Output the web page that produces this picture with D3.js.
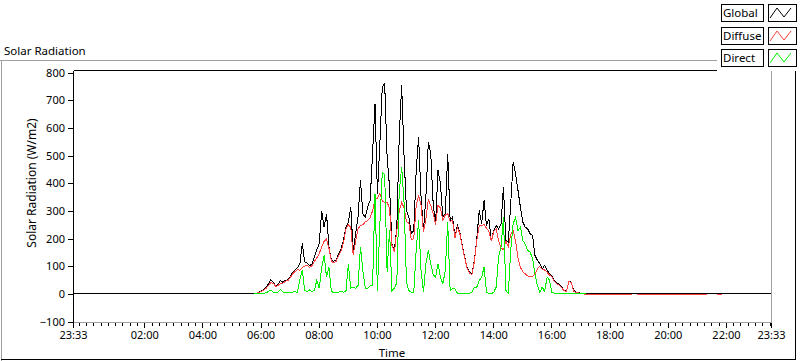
<!DOCTYPE html>
<html><head><meta charset="utf-8">
<script src="https://cdn.jsdelivr.net/npm/d3@7"></script>
<style>
html,body{margin:0;padding:0;background:#fff;}
svg{display:block;font-family:"Noto Sans",sans-serif;}
</style></head><body>
<svg id="chart" width="800" height="361"></svg>
<script>
// ---------------- data ----------------
const chartTitle = "Solar Radiation";
const yTitle = "Solar Radiation (W/m2)";
const xTitle = "Time";
const seriesNames = ["Global", "Diffuse", "Direct"];
const seriesColors = ["#000000", "#ff4040", "#00f000"];
const xTickLabels = ["23:33","02:00","04:00","06:00","08:00","10:00","12:00","14:00","16:00","18:00","20:00","22:00","23:33"];
const yTicks = [-100, 0, 100, 200, 300, 400, 500, 600, 700, 800];
const yDomain = [-100, 800];
const axisStart = "23:33";          // previous day
const axisEnd = "23:33";            // current day
const dayStart = "05:45";           // first daytime sample
const sampleMinutes = 5;
const nightGlobal = 0;              // global radiation reading during the night

const globalValues = [0,2,6,10,14,22,36,50,42,30,34,48,42,50,50,62,78,87,94,108,
 183,115,111,102,108,133,159,181,301,241,289,169,121,118,123,145,163,193,241,259,
 314,157,217,277,410,289,277,314,338,507,687,360,543,748,760,494,386,181,157,241,
 567,754,494,301,277,217,229,446,567,350,229,350,549,507,326,253,446,398,277,289,
 507,265,277,205,247,223,175,133,96,78,72,121,199,301,253,338,247,271,193,229,
 247,235,253,386,193,187,326,476,434,374,313,259,241,235,217,211,139,121,109,90,
 103,87,72,66,48,39,34,24,14,10,46,42,12,6,5,2,1,0,0,0,0,0];

const diffuseValues = [0,2,5,9,13,19,30,40,38,27,30,38,38,46,47,58,72,80,88,85,
 95,100,104,96,102,118,130,145,170,190,199,165,118,112,118,138,155,185,235,250,
 240,140,190,235,247,250,260,265,275,300,340,345,362,335,330,330,310,175,150,230,
 300,330,310,260,255,195,200,320,355,320,225,270,340,320,290,250,320,310,265,285,
 290,262,265,203,240,218,172,130,93,75,70,116,193,245,247,250,238,225,190,225,
 235,193,165,160,190,170,215,229,190,130,95,80,72,65,63,63,70,90,99,88,
 86,78,68,62,45,36,31,22,12,8,44,40,10,4,3,1,0,-2,-2,-2,
 -2,-2,-2,-2,-2,-2,-2,-2,-2,-2,-2,-2,-2,-2,-2,-2,-2,null,-2,-2,
 -2,-2,-2,-2,-2,-2,-2,-2,-2,-2,-2,-2,-2,-2,-2,-2,-2,-2,-2,-2,
 -2,-2,-2,-2,-2,-2,-2,-2,null,null,null,-2,-2,-2];

const directValues = [0,0,0,0,2,4,8,14,6,4,6,16,6,5,4,5,6,8,5,50,
 85,12,8,14,8,12,50,20,96,140,60,96,8,5,6,6,8,6,8,108,
 20,25,20,30,169,84,20,20,30,30,362,10,250,440,430,80,230,12,20,40,
 370,458,330,40,12,6,6,157,265,84,6,108,157,110,70,60,108,60,36,84,
 259,12,18,18,2,2,2,2,2,2,6,24,24,48,60,96,6,0,0,6,
 24,133,169,277,12,2,157,253,277,229,241,193,180,157,150,130,72,30,6,24,
 8,60,50,6,2,0,0,0,0,0,0,0,0,0,0,0,0,0];

// ---------------- layout ----------------
const svg = d3.select("#chart");
const W = 800, H = 361;
const plot = {left: 73.5, right: 771.5, top: 70.5, bottom: 322.5};

const parseHM = d3.timeParse("%Y-%m-%d %H:%M");
const tStart = parseHM("2024-01-01 " + axisStart);
const tEnd = parseHM("2024-01-02 " + axisEnd);
const t0 = parseHM("2024-01-02 " + dayStart);
const timeAt = i => d3.timeMinute.offset(t0, i * sampleMinutes);

const x = d3.scaleTime().domain([tStart, tEnd]).range([plot.left, plot.right]);
const y = d3.scaleLinear().domain(yDomain).range([321.5, 72.5]);

// outer panel frame
svg.append("line").attr("x1",0).attr("x2",W).attr("y1",60.5).attr("y2",60.5).attr("stroke","#a0a0a0");
svg.append("line").attr("x1",1.5).attr("x2",1.5).attr("y1",60).attr("y2",H).attr("stroke","#a0a0a0");
svg.append("line").attr("x1",1).attr("x2",796).attr("y1",359.5).attr("y2",359.5).attr("stroke","#000");
svg.append("line").attr("x1",795.5).attr("x2",795.5).attr("y1",60).attr("y2",360).attr("stroke","#000");

// title
svg.append("text").attr("x",4).attr("y",55).attr("font-size",11.5).attr("fill","#000").text(chartTitle);

// plot background
svg.append("rect").attr("x",plot.left).attr("y",plot.top).attr("width",plot.right-plot.left).attr("height",plot.bottom-plot.top).attr("fill","#fff");

// series data
const globalData = [{t: tStart, v: nightGlobal}]
  .concat(globalValues.map((v,i)=>({t: timeAt(i), v})))
  .concat([{t: tEnd, v: nightGlobal}]);
const diffuseData = diffuseValues.map((v,i)=>({t: timeAt(i), v}));
const directData = directValues.map((v,i)=>({t: timeAt(i), v}));
const allSeries = [globalData, diffuseData, directData];

const line = d3.line().defined(d => d.v !== null).x(d => x(d.t)).y(d => y(d.v));
const clipId = "plotclip";
svg.append("clipPath").attr("id",clipId).append("rect")
  .attr("x",plot.left).attr("y",plot.top).attr("width",plot.right-plot.left).attr("height",plot.bottom-plot.top);
const gLines = svg.append("g").attr("clip-path",`url(#${clipId})`);
allSeries.forEach((data,k)=>{
  gLines.append("path").datum(data).attr("d",line)
    .attr("fill","none").attr("stroke",seriesColors[k]).attr("stroke-width",1)
    .attr("shape-rendering","crispEdges");
});

// plot frame (sunken style)
const frame = svg.append("g").attr("shape-rendering","crispEdges");
frame.append("line").attr("x1",plot.left).attr("x2",plot.right).attr("y1",plot.top).attr("y2",plot.top).attr("stroke","#000");
frame.append("line").attr("x1",plot.left).attr("x2",plot.left).attr("y1",plot.top).attr("y2",plot.bottom).attr("stroke","#000");
frame.append("line").attr("x1",plot.left).attr("x2",plot.right+0.5).attr("y1",plot.bottom).attr("y2",plot.bottom).attr("stroke","#a0a0a0");
frame.append("line").attr("x1",plot.right).attr("x2",plot.right).attr("y1",plot.top).attr("y2",plot.bottom).attr("stroke","#a0a0a0");

// y axis
const yAxis = d3.axisLeft(y).tickValues(yTicks).tickSize(5).tickPadding(3).tickFormat(d3.format("d"));
const gy = svg.append("g").attr("transform",`translate(${plot.left - 0.5},0)`).call(yAxis);
gy.select(".domain").remove();
gy.selectAll("line").attr("shape-rendering","crispEdges");
gy.selectAll("text").attr("font-size",11).attr("font-family","Noto Sans").attr("fill","#000");

// x axis
const majorTimes = xTickLabels.map((lab,i)=>{
  if (i === 0) return tStart;
  if (i === xTickLabels.length-1) return tEnd;
  return parseHM("2024-01-02 " + lab);
});
const majorSet = new Set(majorTimes.map(d=>+d));
const minorTimes = d3.timeMinute.every(15).range(tStart, tEnd).filter(d=>!majorSet.has(+d));
const gxMinor = svg.append("g").attr("transform",`translate(-0.5,${plot.bottom + 0.5})`)
  .call(d3.axisBottom(x).tickValues(minorTimes).tickSize(3).tickFormat(""));
gxMinor.select(".domain").remove();
const labelByTime = new Map(majorTimes.map((d,i)=>[+d, xTickLabels[i]]));
const gx = svg.append("g").attr("transform",`translate(-0.5,${plot.bottom + 0.5})`)
  .call(d3.axisBottom(x).tickValues(majorTimes).tickSize(5).tickPadding(3).tickFormat(d=>labelByTime.get(+d)));
gx.select(".domain").remove();
svg.selectAll(".tick line").attr("stroke","#000").attr("shape-rendering","crispEdges");
gx.selectAll("text").attr("font-size",11).attr("font-family","Noto Sans").attr("fill","#000");

// axis titles
svg.append("text").attr("transform","translate(36,183) rotate(-90)").attr("text-anchor","middle")
  .attr("font-size",12).attr("fill","#000").text(yTitle);
svg.append("text").attr("x",392).attr("y",357).attr("text-anchor","middle")
  .attr("font-size",11.5).attr("fill","#000").text(xTitle);

// legend
const lg = svg.append("g");
lg.append("rect").attr("x",717).attr("y",0).attr("width",83).attr("height",71).attr("fill","#fff");
seriesNames.forEach((name,k)=>{
  const top = 4 + k*22.7;
  const row = lg.append("g").attr("transform",`translate(0,${Math.round(top)})`);
  row.append("rect").attr("x",721.5).attr("y",0.5).attr("width",42).attr("height",17)
    .attr("fill","#fff").attr("stroke","#000").attr("shape-rendering","crispEdges");
  row.append("text").attr("x",723).attr("y",13).attr("font-size",11.5).attr("fill","#000").text(name);
  row.append("rect").attr("x",768.5).attr("y",0.5).attr("width",28).attr("height",17)
    .attr("fill","#fff").attr("stroke","#000").attr("shape-rendering","crispEdges");
  row.append("polyline").attr("points","770,14 777,4 784,13 791,4")
    .attr("fill","none").attr("stroke",seriesColors[k]).attr("stroke-width",1);
});
</script>
</body></html>
